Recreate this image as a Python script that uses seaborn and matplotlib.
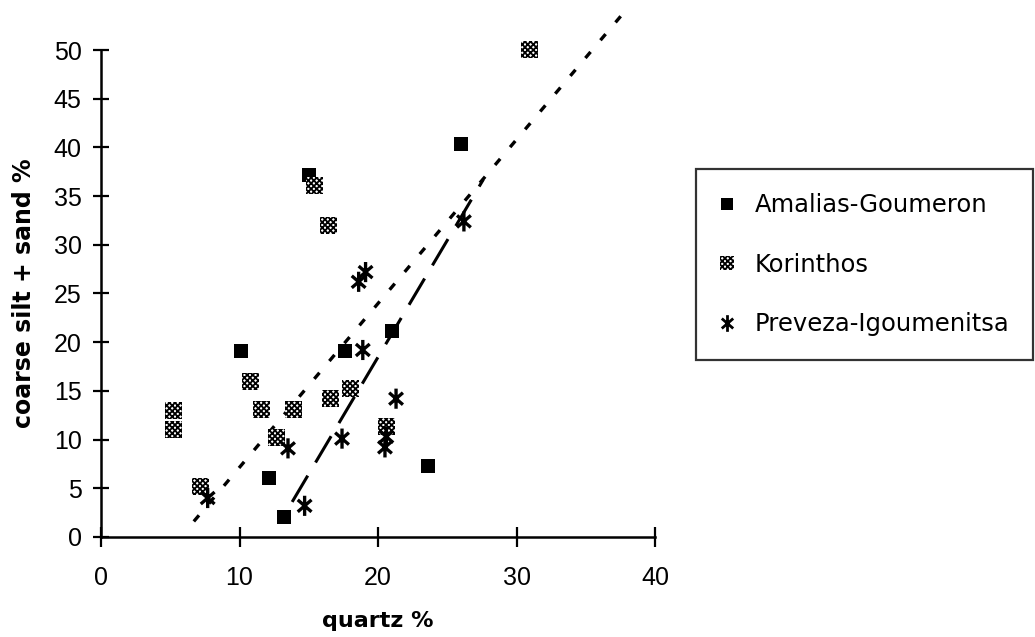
import numpy as np
import pandas as pd
import seaborn as sns
import matplotlib
matplotlib.use("Agg")
import matplotlib.pyplot as plt
from matplotlib.path import Path
from matplotlib.lines import Line2D
from matplotlib.patches import Patch

# Sample sites and measurements (quartz % vs coarse silt + sand %)
amalias_quartz = [10.1, 12.1, 13.2, 15.0, 17.6, 21.0, 23.6, 26.0]
amalias_coarse = [19.1, 6.1, 2.1, 37.2, 19.1, 21.2, 7.3, 40.3]

korinthos_quartz = [5.2, 5.2, 7.2, 10.8, 11.6, 12.7, 13.9, 15.4, 16.4, 16.6, 18.0, 20.6, 30.9]
korinthos_coarse = [13.0, 11.0, 5.2, 16.0, 13.1, 10.2, 13.1, 36.1, 32.0, 14.2, 15.2, 11.3, 50.1]

preveza_quartz = [7.7, 13.5, 14.7, 17.4, 18.6, 18.9, 19.1, 20.5, 20.6, 21.3, 26.2]
preveza_coarse = [4.0, 9.1, 3.2, 10.1, 26.2, 19.2, 27.2, 9.2, 10.3, 14.2, 32.4]

# Trend lines (end points)
trend_all_x = [6.7, 37.6]
trend_all_y = [1.6, 53.6]
trend_prev_x = [13.8, 27.6]
trend_prev_y = [3.6, 36.7]

site_names = ["Amalias-Goumeron", "Korinthos", "Preveza-Igoumenitsa"]
x_ticks = [0, 10, 20, 30, 40]
y_ticks = [0, 5, 10, 15, 20, 25, 30, 35, 40, 45, 50]

sns.set_theme(style="white")
plt.rcParams["font.family"] = ["DejaVu Sans"]
plt.rcParams["hatch.linewidth"] = 1.3
plt.rcParams["hatch.color"] = "black"

fig = plt.figure(figsize=(10.35, 6.37), dpi=100)
ax = fig.add_axes([0.0976, 0.157, 0.5353, 0.7645])

# Asterisk marker: vertical bar plus two diagonals
ang = np.deg2rad(45)
dx, dy = 0.8 * np.cos(ang) * 1.15, 0.8 * np.sin(ang)
star = Path(
    [(0, -0.95), (0, 0.95), (-dx, -dy), (dx, dy), (-dx, dy), (dx, -dy)],
    [Path.MOVETO, Path.LINETO, Path.MOVETO, Path.LINETO, Path.MOVETO, Path.LINETO],
)

df_a = pd.DataFrame({"quartz": amalias_quartz, "coarse": amalias_coarse})
df_k = pd.DataFrame({"quartz": korinthos_quartz, "coarse": korinthos_coarse})
df_p = pd.DataFrame({"quartz": preveza_quartz, "coarse": preveza_coarse})

sns.scatterplot(data=df_a, x="quartz", y="coarse", ax=ax, marker="s", s=110,
                color="black", edgecolor="black", linewidth=0, zorder=3, clip_on=False)
sns.scatterplot(data=df_k, x="quartz", y="coarse", ax=ax, marker="s", s=150,
                facecolor="white", edgecolor="black", linewidth=0, hatch="xxxxxx",
                zorder=3, clip_on=False)
sns.scatterplot(data=df_p, x="quartz", y="coarse", ax=ax, marker=star, s=210,
                facecolor="none", edgecolor="black", linewidth=2.4, zorder=3,
                clip_on=False)

sns.lineplot(x=trend_all_x, y=trend_all_y, ax=ax, color="black", linewidth=2.4,
             clip_on=False, zorder=2)
ax.lines[-1].set_dashes([2.4, 4.6])
sns.lineplot(x=trend_prev_x, y=trend_prev_y, ax=ax, color="black", linewidth=2.2,
             clip_on=False, zorder=2)
ax.lines[-1].set_dashes([10, 5])

ax.set_xlim(0, 40)
ax.set_ylim(0, 50)
ax.set_xticks(x_ticks)
ax.set_yticks(y_ticks)
ax.set_xticklabels([str(v) for v in x_ticks], family="Liberation Sans")
ax.set_yticklabels([str(v) for v in y_ticks], family="Liberation Sans")

for side in ["top", "right"]:
    ax.spines[side].set_visible(False)
for side in ["left", "bottom"]:
    ax.spines[side].set_color("black")
    ax.spines[side].set_linewidth(1.8)

ax.tick_params(axis="x", direction="inout", length=14, width=1.6, color="black",
               pad=14, labelsize=18, labelcolor="black", bottom=True)
ax.tick_params(axis="y", direction="inout", length=12, width=1.6, color="black",
               pad=8, labelsize=18, labelcolor="black", left=True)

ax.set_xlabel("quartz %", fontsize=16, fontweight="bold", color="black")
ax.set_ylabel("coarse silt + sand %", fontsize=17, fontweight="bold", color="black")
ax.xaxis.set_label_coords(0.5, -0.152)
ax.yaxis.set_label_coords(-0.118, 0.5)

handles = [
    Line2D([], [], linestyle="none", marker="s", markersize=9, color="black",
           markeredgewidth=0),
    Patch(facecolor="white", edgecolor="black", linewidth=0, hatch="xxxxxx"),
    Line2D([], [], linestyle="none", marker=star, markersize=12, color="black",
           markerfacecolor="none", markeredgewidth=2.0),
]
leg = fig.legend(handles, site_names, loc="upper left",
                 bbox_to_anchor=(696 / 1035, 1 - 169 / 637),
                 fontsize=17.5, frameon=True, fancybox=False, labelspacing=1.45,
                 handletextpad=0.85, borderpad=1.0, handlelength=0.55,
                 handleheight=0.55, borderaxespad=0)
leg.get_frame().set_edgecolor("black")
leg.get_frame().set_linewidth(1.6)
for t in leg.get_texts():
    t.set_color("black")

fig.savefig("out.png", dpi=100, facecolor="white")
